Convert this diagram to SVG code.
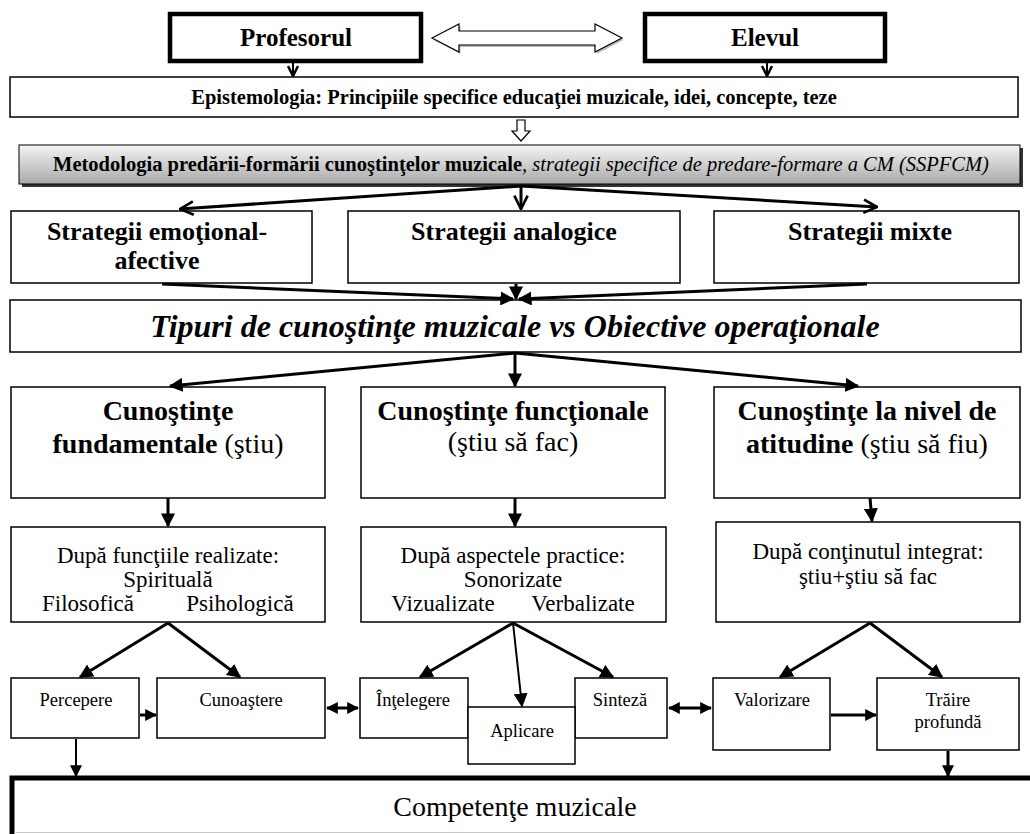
<svg xmlns="http://www.w3.org/2000/svg" width="1030" height="834" viewBox="0 0 1030 834" font-family="'Liberation Serif', 'DejaVu Serif', serif">
<defs>
<style>
.box{fill:#fff;stroke:#000;stroke-width:1.5}
.thick{fill:#fff;stroke:#000;stroke-width:4.5}
text{font-family:'Liberation Serif','DejaVu Serif',serif;fill:#000;text-anchor:middle}
.b{font-weight:bold}
.ln{stroke:#000;stroke-width:3;fill:none}
.lt{stroke:#000;stroke-width:2;fill:none}
</style>
<marker id="arr" viewBox="0 0 10 10" refX="9" refY="5" markerWidth="14" markerHeight="14" markerUnits="userSpaceOnUse" orient="auto"><path d="M0,0 L10,5 L0,10 z" fill="#000"/></marker>
<marker id="arrs" viewBox="0 0 10 10" refX="9" refY="5" markerWidth="12" markerHeight="12" markerUnits="userSpaceOnUse" orient="auto"><path d="M0,0 L10,5 L0,10 z" fill="#000"/></marker>
<marker id="arrst" viewBox="0 0 10 10" refX="1" refY="5" markerWidth="12" markerHeight="12" markerUnits="userSpaceOnUse" orient="auto"><path d="M10,0 L0,5 L10,10 z" fill="#000"/></marker>
<marker id="chev" viewBox="0 0 12 12" refX="11" refY="6" markerWidth="16" markerHeight="16" markerUnits="userSpaceOnUse" orient="auto"><path d="M1,1 L11,6 L1,11" fill="none" stroke="#000" stroke-width="2"/></marker>
<marker id="chevs" viewBox="0 0 12 12" refX="11" refY="6" markerWidth="12" markerHeight="12" markerUnits="userSpaceOnUse" orient="auto"><path d="M1,1 L11,6 L1,11" fill="none" stroke="#000" stroke-width="2.5"/></marker>
<linearGradient id="g" x1="0" y1="0" x2="0" y2="1"><stop offset="0" stop-color="#f4f4f4"/><stop offset="1" stop-color="#a9a9a9"/></linearGradient>
</defs>

<g id="profesorul"><rect class="thick" x="170" y="14" width="251" height="47"/><text class="b" x="296" y="46" font-size="25">Profesorul</text></g>
<g id="elevul"><rect class="thick" x="645" y="14" width="240" height="47"/><text class="b" x="765" y="46" font-size="25">Elevul</text></g>
<g id="epistemologia"><rect class="box" x="10" y="77" width="1008" height="40"/><text class="b" x="514" y="104" font-size="20.5">Epistemologia: Principiile specifice educaţiei muzicale, idei, concepte, teze</text></g>
<g id="metodologia"><rect x="22" y="148" width="1001" height="39" fill="#333"/><rect x="19" y="145" width="1001" height="39" fill="url(#g)" stroke="#000" stroke-width="1"/><text x="521" y="171" font-size="20.5"><tspan class="b">Metodologia predării-formării cunoştinţelor muzicale</tspan><tspan font-style="italic">, strategii specifice de predare-formare a CM (SSPFCM)</tspan></text></g>
<g id="strat1"><rect class="box" x="11" y="211" width="301" height="72"/><text class="b" x="157" y="240" font-size="26">Strategii emoţional-</text><text class="b" x="157" y="269" font-size="26">afective</text></g>
<g id="strat2"><rect class="box" x="348" y="211" width="332" height="72"/><text class="b" x="514" y="240" font-size="26">Strategii analogice</text></g>
<g id="strat3"><rect class="box" x="714" y="211" width="305" height="72"/><text class="b" x="870" y="240" font-size="26">Strategii mixte</text></g>
<g id="tipuri"><rect class="box" x="10" y="300" width="1011" height="52"/><text class="b" x="515" y="337" font-size="32" font-style="italic">Tipuri de cunoştinţe muzicale vs Obiective operaţionale</text></g>
<g id="cf"><rect class="box" x="11" y="387" width="314" height="111"/><text class="b" x="168" y="420" font-size="28">Cunoştinţe</text><text x="168" y="453" font-size="28"><tspan class="b">fundamentale</tspan> (ştiu)</text></g>
<g id="cfu"><rect class="box" x="361" y="387" width="304" height="111"/><text class="b" x="513" y="420" font-size="28">Cunoştinţe funcţionale</text><text x="513" y="451" font-size="28">(ştiu să fac)</text></g>
<g id="ca"><rect class="box" x="714" y="387" width="306" height="111"/><text class="b" x="867" y="420" font-size="28">Cunoştinţe la nivel de</text><text x="867" y="453" font-size="28"><tspan class="b">atitudine</tspan> (ştiu să fiu)</text></g>
<g id="df"><rect class="box" x="11" y="527" width="314" height="95"/><text x="168" y="563" font-size="23">După funcţiile realizate:</text><text x="168" y="587" font-size="23">Spirituală</text><text x="88" y="611" font-size="23">Filosofică</text><text x="240" y="611" font-size="23">Psihologică</text></g>
<g id="da"><rect class="box" x="361" y="527" width="305" height="95"/><text x="513" y="563" font-size="23">După aspectele practice:</text><text x="513" y="587" font-size="23">Sonorizate</text><text x="443" y="611" font-size="23">Vizualizate</text><text x="583" y="611" font-size="23">Verbalizate</text></g>
<g id="dc"><rect class="box" x="716" y="522" width="304" height="100"/><text x="868" y="559" font-size="23">După conţinutul integrat:</text><text x="868" y="584" font-size="23">ştiu+ştiu să fac</text></g>
<g id="percepere"><rect class="box" x="11" y="678" width="128" height="60"/><text x="76" y="706" font-size="18.5">Percepere</text></g>
<g id="cunoastere"><rect class="box" x="157" y="678" width="168" height="60"/><text x="241" y="706" font-size="18.5">Cunoaştere</text></g>
<g id="intelegere"><rect class="box" x="360" y="678" width="108" height="60"/><text x="413" y="706" font-size="18.5">Înţelegere</text></g>
<g id="sinteza"><rect class="box" x="575" y="678" width="92" height="60"/><text x="620" y="706" font-size="18.5">Sinteză</text></g>
<g id="aplicare"><rect class="box" x="468" y="707" width="107" height="57"/><text x="522" y="737" font-size="18.5">Aplicare</text></g>
<g id="valorizare"><rect class="box" x="713" y="678" width="117" height="72"/><text x="772" y="706" font-size="18.5">Valorizare</text></g>
<g id="traire"><rect class="box" x="877" y="678" width="142" height="72"/><text x="948" y="706" font-size="18.5">Trăire</text><text x="948" y="728" font-size="18.5">profundă</text></g>
<g id="competente"><rect x="12" y="778" width="1040" height="80" fill="#fff" stroke="#000" stroke-width="5"/><line x1="14" y1="832.5" x2="1030" y2="832.5" stroke="#ccc" stroke-width="1"/><text x="515" y="816" font-size="28">Competenţe muzicale</text></g>

<g id="connectors">
<path d="M432,38 L459,24 L459,31 L595,31 L595,24 L622,38 L595,52 L595,45 L459,45 L459,52 Z" fill="#bbb" transform="translate(1.5,2)"/>
<path d="M432,38 L459,24 L459,31 L595,31 L595,24 L622,38 L595,52 L595,45 L459,45 L459,52 Z" fill="#fff" stroke="#000" stroke-width="1.2"/>
<path d="M517,120 L525,120 L525,131 L530,131 L521,141 L512,131 L517,131 Z" fill="#fff" stroke="#000" stroke-width="1.2"/>
<line class="lt" x1="293" y1="62" x2="293" y2="76" marker-end="url(#chevs)"/>
<line class="lt" x1="767" y1="62" x2="767" y2="76" marker-end="url(#chevs)"/>
<line class="ln" x1="521" y1="186" x2="180" y2="209" marker-end="url(#chev)"/>
<line class="ln" x1="521" y1="186" x2="521" y2="209" marker-end="url(#chev)"/>
<line class="ln" x1="521" y1="186" x2="877" y2="207" marker-end="url(#chev)"/>
<line class="ln" x1="162" y1="284" x2="513" y2="299" marker-end="url(#arr)"/>
<line class="ln" x1="516" y1="284" x2="516" y2="299" marker-end="url(#arr)"/>
<line class="ln" x1="867" y1="284" x2="519" y2="299" marker-end="url(#arr)"/>
<line class="ln" x1="515" y1="353" x2="170" y2="386" marker-end="url(#arr)"/>
<line class="ln" x1="515" y1="353" x2="515" y2="386" marker-end="url(#arr)"/>
<line class="ln" x1="515" y1="353" x2="858" y2="386" marker-end="url(#arr)"/>
<line class="ln" x1="168" y1="498" x2="168" y2="526" marker-end="url(#arr)"/>
<line class="ln" x1="515" y1="498" x2="515" y2="526" marker-end="url(#arr)"/>
<line class="ln" x1="870" y1="498" x2="872" y2="521" marker-end="url(#arr)"/>
<line class="ln" x1="168" y1="623" x2="80" y2="677" marker-end="url(#arr)"/>
<line class="ln" x1="168" y1="623" x2="240" y2="677" marker-end="url(#arr)"/>
<line class="ln" x1="513" y1="623" x2="420" y2="677" marker-end="url(#arr)"/>
<line class="lt" x1="513" y1="623" x2="522" y2="706" marker-end="url(#arr)"/>
<line class="ln" x1="513" y1="623" x2="613" y2="677" marker-end="url(#arr)"/>
<line class="ln" x1="870" y1="623" x2="780" y2="677" marker-end="url(#arr)"/>
<line class="ln" x1="870" y1="623" x2="942" y2="677" marker-end="url(#arr)"/>
<line class="ln" x1="140" y1="715" x2="156" y2="715" marker-end="url(#arrs)"/>
<line class="ln" x1="327" y1="708" x2="358" y2="708" marker-start="url(#arrst)" marker-end="url(#arrs)"/>
<line class="ln" x1="669" y1="708" x2="711" y2="708" marker-start="url(#arrst)" marker-end="url(#arrs)"/>
<line class="ln" x1="831" y1="715" x2="876" y2="715" marker-end="url(#arrs)"/>
<line class="lt" x1="76" y1="739" x2="76" y2="776" marker-end="url(#arrs)"/>
<line class="ln" x1="948" y1="751" x2="948" y2="776" marker-end="url(#arrs)"/>
</g>
</svg>
